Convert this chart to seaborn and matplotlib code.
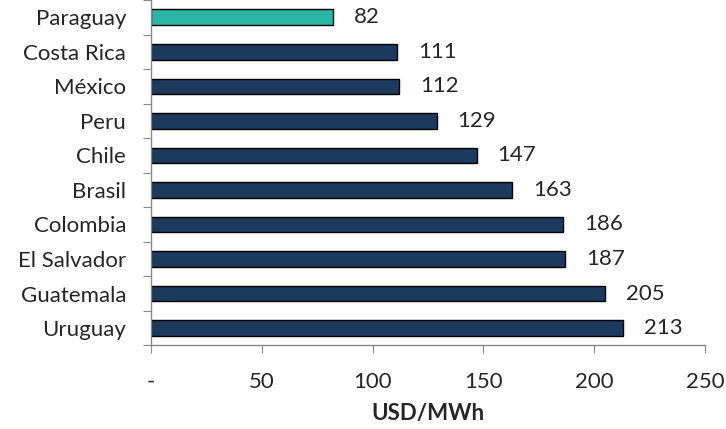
import seaborn as sns
import pandas as pd
from matplotlib import pyplot as plt

countries = ["Paraguay", "Costa Rica", "México", "Peru", "Chile", "Brasil",
             "Colombia", "El Salvador", "Guatemala", "Uruguay"]
prices = [82, 111, 112, 129, 147, 163, 186, 187, 205, 213]
highlight = ["Paraguay"]

df = pd.DataFrame({"country": countries, "price": prices})
df["group"] = ["hl" if c in highlight else "other" for c in countries]

sns.set_style("white")
plt.rcParams['font.family'] = ['Lato', 'DejaVu Sans']

fig, ax = plt.subplots(figsize=(7.26, 4.29), dpi=100)

sns.barplot(data=df, x="price", y="country", hue="group",
            palette={"hl": "#2bb5a5", "other": "#1c3a5e"}, saturation=1,
            dodge=False, width=0.45, edgecolor="black", linewidth=1.0,
            legend=False, ax=ax)

for cont in ax.containers:
    ax.bar_label(cont, labels=[f"{v:.0f}" if v == v else "" for v in cont.datavalues],
                 padding=15, fontsize=16)

ax.set_xlim(0, 250)
ax.set_ylim(len(countries) - 0.5, -0.5)
ax.set_xticks([0, 50, 100, 150, 200, 250])
ax.set_xticklabels(["-", "50", "100", "150", "200", "250"])
ax.set_yticks([i - 0.5 for i in range(len(countries) + 1)], minor=False)
ax.set_yticklabels([])
ax.set_yticks(range(len(countries)), minor=True)
ax.set_yticklabels(countries, minor=True)
ax.tick_params(axis="y", which="minor", length=0, labelsize=16, pad=18)
ax.tick_params(axis="y", which="major", length=6, color="#888888", direction="out", left=True)
ax.tick_params(axis="x", length=6, color="#888888", direction="out", bottom=True,
               labelsize=16, pad=13)

ax.set_xlabel("USD/MWh", fontsize=16, fontweight="bold", labelpad=8)
ax.set_ylabel("")

sns.despine(ax=ax, top=True, right=True)
for side in ["left", "bottom"]:
    ax.spines[side].set_color("#888888")
    ax.spines[side].set_linewidth(1.0)

fig.subplots_adjust(left=0.208, right=0.971, top=1.0, bottom=0.195)
fig.savefig("out.png", dpi=100)
